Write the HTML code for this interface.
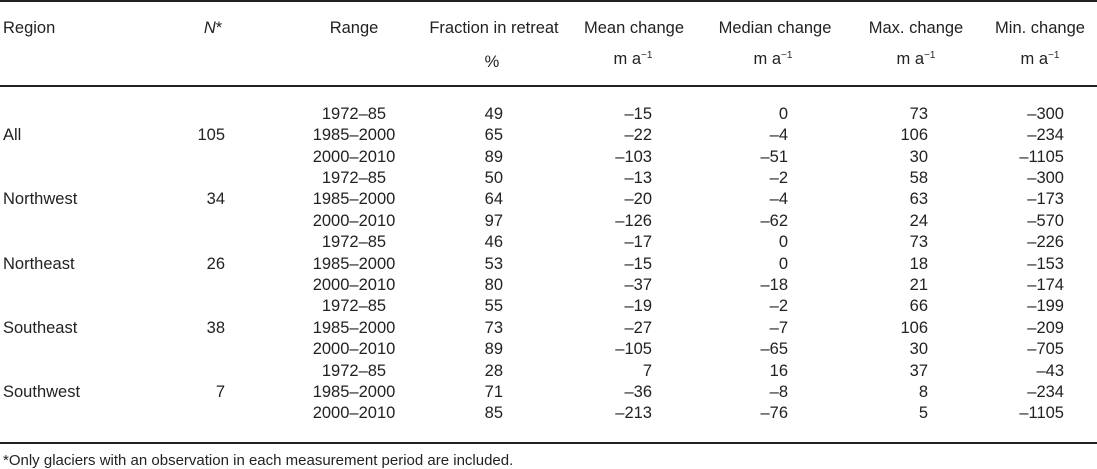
<!DOCTYPE html>
<html><head><meta charset="utf-8">
<style>
html,body{margin:0;padding:0;background:#fff;}
#t{position:relative;width:1097px;height:469px;overflow:hidden;font-family:"Liberation Sans",sans-serif;font-size:16.5px;color:#222;}
.c{position:absolute;white-space:nowrap;line-height:18px;height:18px;}
.rule{position:absolute;left:0;width:1097px;background:#222;}
sup{font-size:10px;vertical-align:6px;line-height:0;}
</style></head>
<body>
<div id="t">
  <div class="rule" style="top:0;height:2px"></div>
  <div class="rule" style="top:85px;height:2px"></div>
  <div class="rule" style="top:442px;height:2px"></div>
  <div class="c" style="left:3px;top:19px">Region</div>
  <div class="c" style="left:193px;width:40px;text-align:center;top:19px"><i>N</i>*</div>
  <div class="c" style="left:294px;width:120px;text-align:center;top:19px">Range</div>
  <div class="c" style="left:414px;width:160px;text-align:center;top:19px">Fraction in retreat</div>
  <div class="c" style="left:574px;width:120px;text-align:center;top:19px">Mean change</div>
  <div class="c" style="left:705px;width:140px;text-align:center;top:19px">Median change</div>
  <div class="c" style="left:856px;width:120px;text-align:center;top:19px">Max. change</div>
  <div class="c" style="left:980px;width:120px;text-align:center;top:19px">Min. change</div>
  <div class="c" style="left:442px;width:100px;text-align:center;top:53px">%</div>
  <div class="c" style="left:583px;width:100px;text-align:center;top:50px">m a<sup>−1</sup></div>
  <div class="c" style="left:723px;width:100px;text-align:center;top:50px">m a<sup>−1</sup></div>
  <div class="c" style="left:866px;width:100px;text-align:center;top:50px">m a<sup>−1</sup></div>
  <div class="c" style="left:990px;width:100px;text-align:center;top:50px">m a<sup>−1</sup></div>
  <div class="c" style="left:3px;top:452px;font-size:15px">*Only glaciers with an observation in each measurement period are included.</div>
</div>
<script>
const regions = ["All","Northwest","Northeast","Southeast","Southwest"];
const counts = ["105","34","26","38","7"];
const ranges = ["1972–85","1985–2000","2000–2010"];
const fraction = ["49","65","89","50","64","97","46","53","80","55","73","89","28","71","85"];
const meanChange = ["–15","–22","–103","–13","–20","–126","–17","–15","–37","–19","–27","–105","7","–36","–213"];
const medianChange = ["0","–4","–51","–2","–4","–62","0","0","–18","–2","–7","–65","16","–8","–76"];
const maxChange = ["73","106","30","58","63","24","73","18","21","66","106","30","37","8","5"];
const minChange = ["–300","–234","–1105","–300","–173","–570","–226","–153","–174","–199","–209","–705","–43","–234","–1105"];

const t = document.getElementById('t');
const row0 = 113.7, rowH = 21.4;
function cell(txt, left, width, align, rowIdx, name) {
  const d = document.createElement('div');
  d.className = 'c';
  d.textContent = txt;
  d.style.left = left + 'px';
  d.style.width = width + 'px';
  d.style.textAlign = align;
  d.style.top = (row0 + rowH * rowIdx - 9) + 'px';
  
  
  t.appendChild(d);
}
regions.forEach((r, g) => {
  cell(r, 3, 150, 'left', g * 3 + 1, 'region-label');
  cell(counts[g], 125, 100, 'right', g * 3 + 1, 'region-count');
});
for (let i = 0; i < 15; i++) {
  cell(ranges[i % 3], 294, 120, 'center', i, 'range-cell');
  cell(fraction[i], 403, 100, 'right', i, 'fraction-cell');
  cell(meanChange[i], 552, 100, 'right', i, 'mean-cell');
  cell(medianChange[i], 688, 100, 'right', i, 'median-cell');
  cell(maxChange[i], 828, 100, 'right', i, 'max-cell');
  cell(minChange[i], 964, 100, 'right', i, 'min-cell');
}
</script>
</body></html>
